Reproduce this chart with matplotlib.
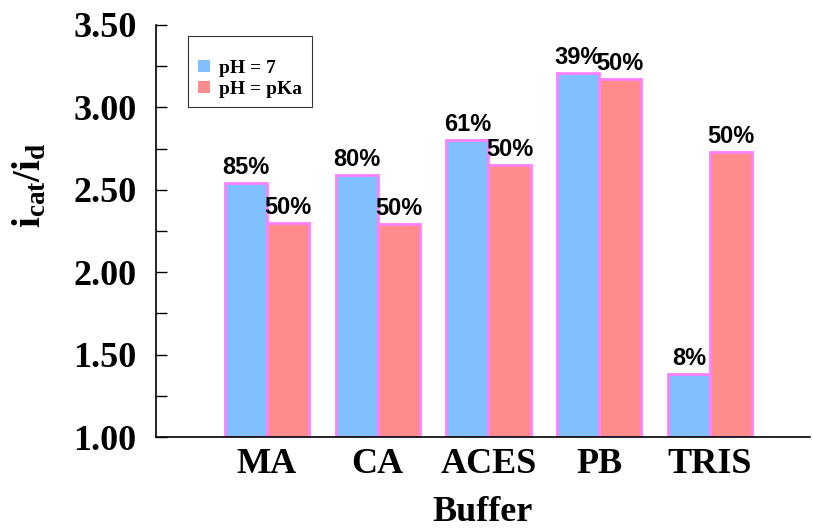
import numpy as np
import matplotlib
matplotlib.use('Agg')
import matplotlib.pyplot as plt
from matplotlib.ticker import MultipleLocator, FormatStrFormatter

# Данные
buffers = ['MA', 'CA', 'ACES', 'PB', 'TRIS']
ph7 = [2.54, 2.59, 2.80, 3.21, 1.38]
ph_pka = [2.30, 2.29, 2.65, 3.17, 2.73]
ph7_labels = ['85%', '80%', '61%', '39%', '8%']
pka_labels = ['50%', '50%', '50%', '50%', '50%']

plt.rcParams['mathtext.fontset'] = 'custom'
plt.rcParams['mathtext.rm'] = 'Liberation Serif:bold'
plt.rcParams['mathtext.bf'] = 'Liberation Serif:bold'
plt.rcParams['mathtext.it'] = 'Liberation Serif:bold'

fig = plt.figure(figsize=(8.13, 5.31), dpi=100)
ax = fig.add_axes([0.192, 0.177, 0.804, 0.776])

x = np.arange(len(buffers))
w = 0.38
ax.bar(x - w / 2, np.array(ph7) - 1, w, bottom=1, color='#80c0ff',
       edgecolor='#ff80ff', linewidth=2, label='pH = 7')
ax.bar(x + w / 2, np.array(ph_pka) - 1, w, bottom=1, color='#ff8c8c',
       edgecolor='#ff80ff', linewidth=2, label='pH = pKa')

# Подписи над столбцами
for xi, v, t in zip(x - w / 2, ph7, ph7_labels):
    ax.text(xi, v + 0.025, t, ha='center', va='bottom', fontsize=17,
            fontweight='bold', family='Liberation Sans')
for xi, v, t in zip(x + w / 2, ph_pka, pka_labels):
    ax.text(xi, v + 0.025, t, ha='center', va='bottom', fontsize=17,
            fontweight='bold', family='Liberation Sans')

ax.set_xlim(-1.0, 4.9)
ax.set_ylim(1.0, 3.5)
ax.yaxis.set_major_locator(MultipleLocator(0.5))
ax.yaxis.set_minor_locator(MultipleLocator(0.25))
ax.yaxis.set_major_formatter(FormatStrFormatter('%.2f'))
ax.set_xticks(x)
ax.set_xticklabels(buffers)

for s in ['top', 'right']:
    ax.spines[s].set_visible(False)
ax.spines['left'].set_linewidth(1.2)
ax.spines['bottom'].set_linewidth(1.2)

ax.tick_params(axis='y', which='major', direction='in', length=8, width=1, pad=14)
ax.tick_params(axis='y', which='minor', direction='in', length=8, width=1)
ax.tick_params(axis='x', length=0, pad=8)
for lbl in ax.get_xticklabels() + ax.get_yticklabels():
    lbl.set_family('Liberation Serif')
    lbl.set_fontweight('bold')
    lbl.set_fontsize(26)

ax.set_xlabel('Buffer', family='Liberation Serif', fontweight='bold', fontsize=26, labelpad=11)
ax.set_ylabel(r'$\mathrm{i_{cat}/i_d}$', fontsize=28)
ax.yaxis.set_label_coords(-0.165, 0.61)

leg = ax.legend(loc='upper left', bbox_to_anchor=(0.049, 0.973),
                prop={'family': 'Liberation Serif', 'weight': 'bold', 'size': 14},
                frameon=True, fancybox=False, edgecolor='black',
                title=' ', title_fontsize=7,
                handlelength=0.6, handleheight=0.6, borderpad=0.5, labelspacing=0.2,
                handletextpad=0.5, borderaxespad=0)
leg.get_frame().set_linewidth(0.8)
for h in leg.legend_handles:
    h.set_edgecolor('none')

plt.savefig('out.png', dpi=100)
